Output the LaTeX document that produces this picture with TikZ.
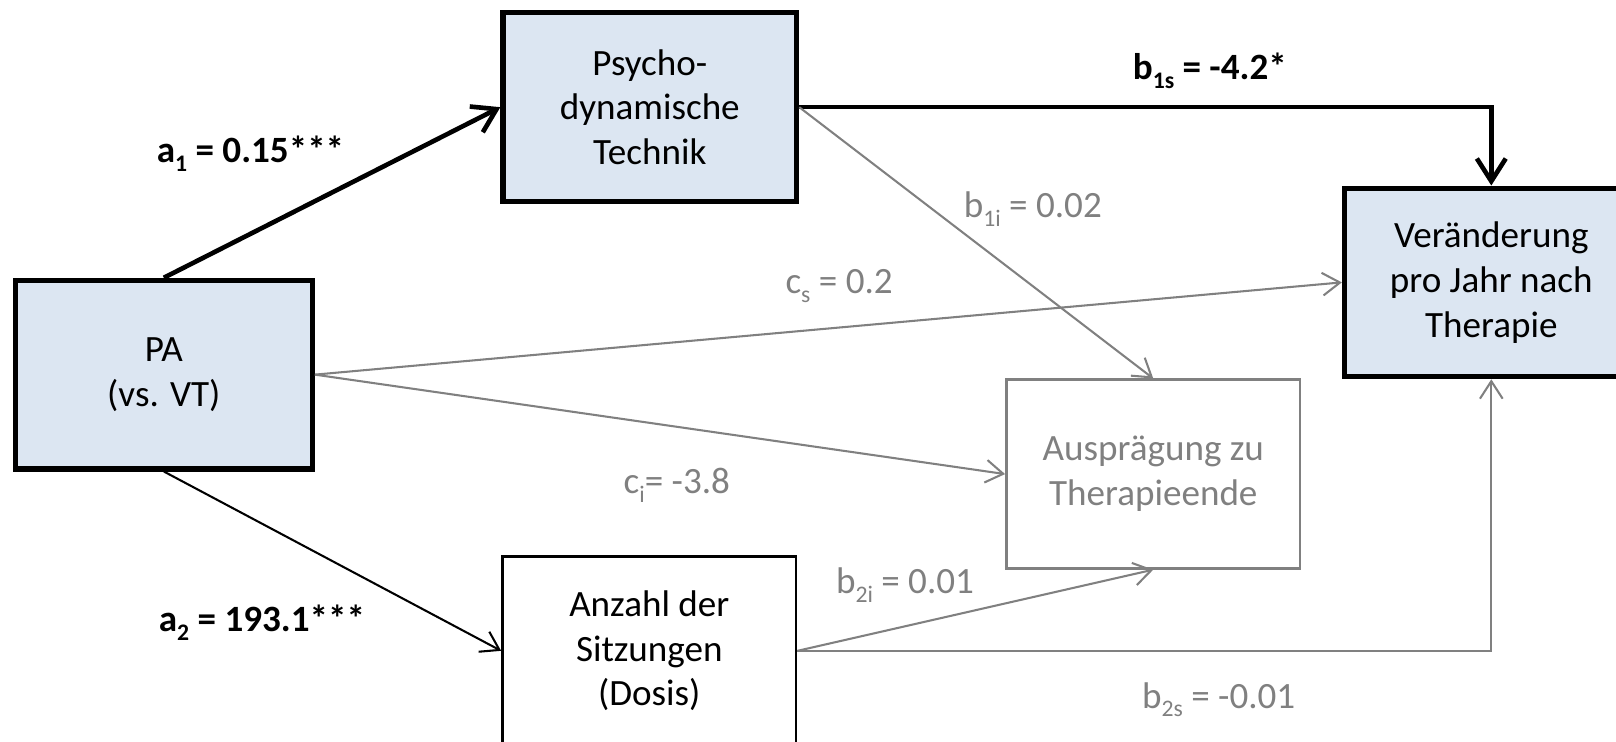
\documentclass[tikz,border=0pt]{standalone}
\usepackage{fontspec}
\setmainfont{Carlito}
\usetikzlibrary{arrows.meta}
\definecolor{boxblue}{HTML}{DCE6F2}
\definecolor{pathgray}{HTML}{808080}
% lowered, smaller index for path coefficients
\newcommand\lowidx[1]{\raisebox{-0.24em}{\fontsize{23}{23}\selectfont #1}}
\begin{document}
\begin{tikzpicture}[x=1pt,y=-1pt,
  every node/.style={font=\fontsize{36}{43.5}\selectfont},
  var/.style={draw, minimum width=285pt, minimum height=183pt, inner sep=0pt, align=center},
  key/.style={var, fill=boxblue, line width=5pt},
  side/.style={var, line width=2.5pt},
  faded/.style={var, draw=pathgray, text=pathgray, line width=2.5pt},
  strong/.style={line width=4.5pt, -{Straight Barb[length=22pt,width=28pt]}},
  plain/.style={line width=2pt, -{Straight Barb[length=17pt,width=22pt]}},
  weak/.style={plain, draw=pathgray},
  coef/.style={anchor=base west, inner sep=0pt, font=\fontsize{36}{43.5}\selectfont},
  weakcoef/.style={coef, text=pathgray},
  strongcoef/.style={coef, font=\fontsize{36}{43.5}\selectfont\bfseries}]
\path[use as bounding box] (0,0) rectangle (1568,719);
\clip (0,0) rectangle (1568,719);
% variables
\node[key, minimum width=288pt] (pa) at (159,363.5) {PA\\(vs. VT)};
\node[key] (psy) at (630.5,104) {Psycho-\\dynamische\\Technik};
\node[key] (chg) at (1447,274) {Veränderung\\pro Jahr nach\\Therapie};
\node[faded] (end) at (1119,460) {Ausprägung zu\\Therapieende};
\node[side] (dose) at (630,631.5) {Anzahl der\\Sitzungen\\(Dosis)};
% paths
\draw[strong] (pa.north) -- (psy.west);
\draw[strong] (psy.east) -| (chg.north);
\draw[weak] (psy.east) -- (end.north);
\draw[weak] (pa.east) -- (chg.west);
\draw[weak] (pa.east) -- (end.west);
\draw[plain] (pa.south) -- (dose.west);
\draw[weak] (dose.east) -- (end.south);
\draw[weak] (dose.east) -| (chg.south);
% coefficients
\node[strongcoef] (la1) at (152,158) {a\lowidx{1} = 0.15***};
\node[strongcoef] (lb1s) at (1099,77) {b\lowidx{1s} = -4.2*};
\node[weakcoef] (lb1i) at (935,211) {b\lowidx{1i} = 0.02};
\node[weakcoef] (lcs) at (762,285) {c\lowidx{s} = 0.2};
\node[weakcoef] (lci) at (605,479) {c\lowidx{i}= -3.8};
\node[strongcoef] (la2) at (154,613) {a\lowidx{2} = 193.1***};
\node[weakcoef] (lb2i) at (811,576) {b\lowidx{2i} = 0.01};
\node[weakcoef] (lb2s) at (1108,687) {b\lowidx{2s} = -0.01};
\end{tikzpicture}
\end{document}
